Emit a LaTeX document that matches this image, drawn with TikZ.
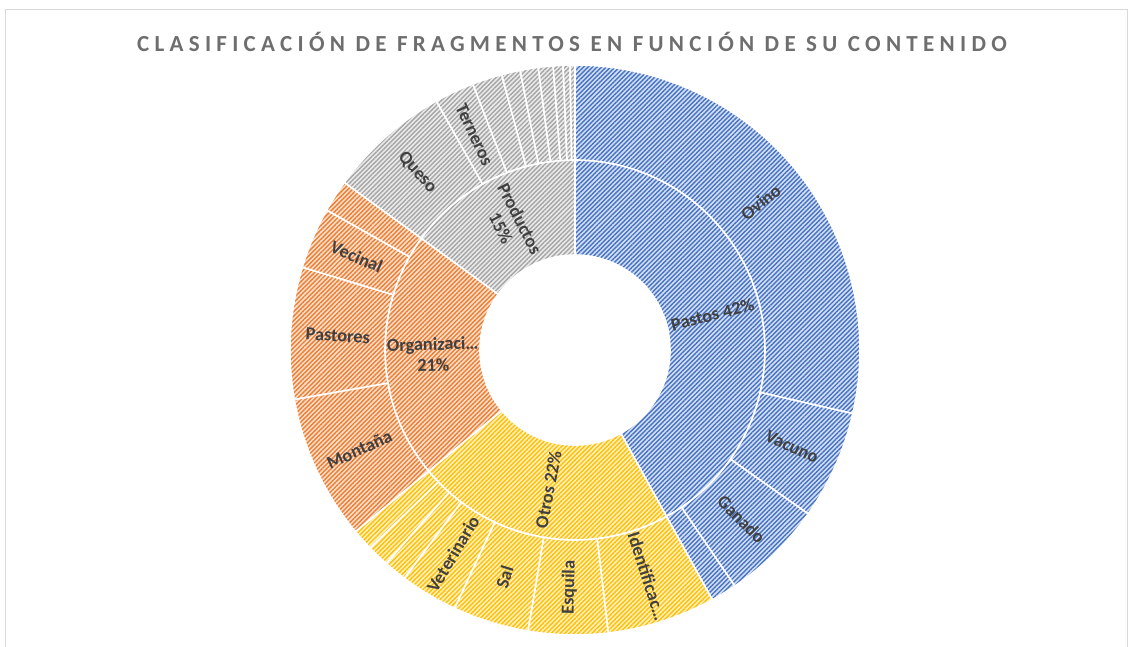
\documentclass[tikz,border=0pt]{standalone}
\usepackage{fontspec}
\setmainfont{Carlito}
\newfontfamily\titlefont[LetterSpace=23]{Carlito}
\usetikzlibrary{patterns.meta}
\definecolor{col_4472C4}{RGB}{68,114,196}
\definecolor{col_D5DFF2}{RGB}{213,223,242}
\definecolor{col_FFC000}{RGB}{255,192,0}
\definecolor{col_FFF0C4}{RGB}{255,240,196}
\definecolor{col_ED7D31}{RGB}{237,125,49}
\definecolor{col_FADFCC}{RGB}{250,223,204}
\definecolor{col_A5A5A5}{RGB}{165,165,165}
\definecolor{col_EBEBEB}{RGB}{235,235,235}
\definecolor{col_404040}{RGB}{64,64,64}
\definecolor{col_6E6E6E}{RGB}{110,110,110}
\definecolor{col_D9D9D9}{RGB}{217,217,217}
\newcommand{\tikzdrawsector}[6]{%
\path[preaction={fill=#1}, pattern={Lines[angle=45,distance=3.2pt,line width=1.4pt]}, pattern color=#2, draw=white, line width=1.6pt, line join=round] (#5:#3) arc[start angle=#5, end angle=#6, radius=#3] -- (#6:#4) arc[start angle=#6, end angle=#5, radius=#4] -- cycle;
}
\tikzset{
  lbl/.style={text=col_404040, font=\fontsize{18.3}{21}\selectfont\bfseries, inner sep=0pt, align=center},
  chartitle/.style={text=col_6E6E6E, font=\titlefont\fontsize{23}{26}\selectfont\bfseries, inner sep=0pt}
}
\begin{document}
\begin{tikzpicture}[x=1pt,y=1pt]
\useasboundingbox (-575,-296) rectangle (557,350);
\draw[col_D9D9D9, line width=1pt] (-569,-320) -- (-569,340) -- (552,340) -- (552,-320);     %% chart frame
\node[chartitle] (titulo) at (-3,308) {CLASIFICACIÓN DE FRAGMENTOS EN FUNCIÓN DE SU CONTENIDO};
%% inner ring
\tikzdrawsector{col_D5DFF2}{col_4472C4}{95}{190}{90}{-61.2}      %% Pastos
\tikzdrawsector{col_FFF0C4}{col_FFC000}{95}{190}{-61.2}{-140.4}  %% Otros
\tikzdrawsector{col_FADFCC}{col_ED7D31}{95}{190}{-140.4}{-216}   %% Organizacion
\tikzdrawsector{col_EBEBEB}{col_A5A5A5}{95}{190}{-216}{-270}     %% Productos
%% outer ring, Pastos
\tikzdrawsector{col_D5DFF2}{col_4472C4}{190}{285}{90}{-12.9}
\tikzdrawsector{col_D5DFF2}{col_4472C4}{190}{285}{-12.9}{-35.1}
\tikzdrawsector{col_D5DFF2}{col_4472C4}{190}{285}{-35.1}{-55.9}
\tikzdrawsector{col_D5DFF2}{col_4472C4}{190}{285}{-55.9}{-61.2}
%% outer ring, Otros
\tikzdrawsector{col_FFF0C4}{col_FFC000}{190}{285}{-61.2}{-83.3}
\tikzdrawsector{col_FFF0C4}{col_FFC000}{190}{285}{-83.3}{-99.5}
\tikzdrawsector{col_FFF0C4}{col_FFC000}{190}{285}{-99.5}{-115}
\tikzdrawsector{col_FFF0C4}{col_FFC000}{190}{285}{-115}{-126.8}
\tikzdrawsector{col_FFF0C4}{col_FFC000}{190}{285}{-126.8}{-131.5}
\tikzdrawsector{col_FFF0C4}{col_FFC000}{190}{285}{-131.5}{-136}
\tikzdrawsector{col_FFF0C4}{col_FFC000}{190}{285}{-136}{-140.4}
%% outer ring, Organizacion
\tikzdrawsector{col_FADFCC}{col_ED7D31}{190}{285}{-140.4}{-170}
\tikzdrawsector{col_FADFCC}{col_ED7D31}{190}{285}{-170}{-196.9}
\tikzdrawsector{col_FADFCC}{col_ED7D31}{190}{285}{-196.9}{-209.4}
\tikzdrawsector{col_FADFCC}{col_ED7D31}{190}{285}{-209.4}{-216}
%% outer ring, Productos
\tikzdrawsector{col_EBEBEB}{col_A5A5A5}{190}{285}{-216}{-240.9}
\tikzdrawsector{col_EBEBEB}{col_A5A5A5}{190}{285}{-240.9}{-249}
\tikzdrawsector{col_EBEBEB}{col_A5A5A5}{190}{285}{-249}{-255.1}
\tikzdrawsector{col_EBEBEB}{col_A5A5A5}{190}{285}{-255.1}{-258.9}
\tikzdrawsector{col_EBEBEB}{col_A5A5A5}{190}{285}{-258.9}{-262.6}
\tikzdrawsector{col_EBEBEB}{col_A5A5A5}{190}{285}{-262.6}{-265.6}
\tikzdrawsector{col_EBEBEB}{col_A5A5A5}{190}{285}{-265.6}{-267.6}
\tikzdrawsector{col_EBEBEB}{col_A5A5A5}{190}{285}{-267.6}{-269}
\tikzdrawsector{col_EBEBEB}{col_A5A5A5}{190}{285}{-269}{-270}
%% labels, inner ring
\node[lbl, rotate=14.4] (pastos) at (14.4:142) {Pastos 42\%};
\node[lbl, rotate=79.2] (otros) at (-100.8:142) {Otros 22\%};
\node[lbl, rotate=1.8] (organizacion) at (-178.2:142) {Organizaci…\\21\%};
\node[lbl, rotate=-63] (productos) at (117:142) {Productos\\15\%};
%% labels, outer ring
\node[lbl, rotate=38.55] (ovino) at (38.55:237.5) {Ovino};
\node[lbl, rotate=-24] (vacuno) at (-24:237.5) {Vacuno};
\node[lbl, rotate=-45.5] (ganado) at (-45.5:237.5) {Ganado};
\node[lbl, rotate=-72.25] (identificacion) at (-72.25:237.5) {Identificac…};
\node[lbl, rotate=88.6] (esquila) at (-91.4:237.5) {Esquila};
\node[lbl, rotate=72.75] (sal) at (-107.25:237.5) {Sal};
\node[lbl, rotate=59.1] (veterinario) at (-120.9:237.5) {Veterinario};
\node[lbl, rotate=24.8] (montana) at (-155.2:237.5) {Montaña};
\node[lbl, rotate=-3.45] (pastores) at (176.55:237.5) {Pastores};
\node[lbl, rotate=-23.15] (vecinal) at (156.85:237.5) {Vecinal};
\node[lbl, rotate=-48.45] (queso) at (131.55:237.5) {Queso};
\node[lbl, rotate=-64.95] (terneros) at (115.05:237.5) {Terneros};
\end{tikzpicture}
\end{document}
